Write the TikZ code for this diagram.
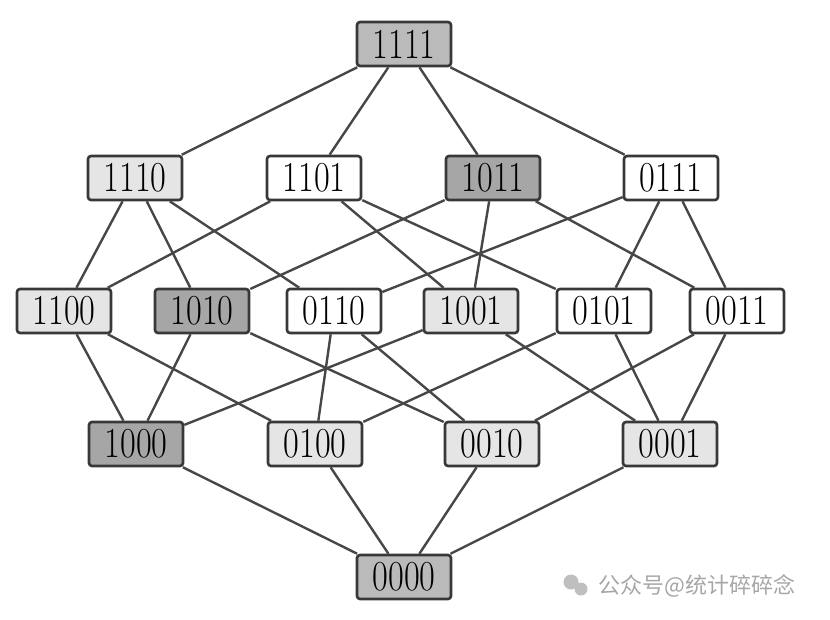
\documentclass[tikz,border=0pt]{standalone}
\usepackage{fontspec}
\newfontfamily\cjk{Noto Sans CJK SC}
\usepackage{graphicx}
\begin{document}
\begin{tikzpicture}[x=1pt,y=-1pt,
  bx/.style={draw=black!78, line width=2.6pt, rounded corners=3pt, minimum width=94pt, minimum height=44pt, inner sep=0pt,
    font=\fontsize{35}{35}\selectfont},
  wfill/.style={bx, fill=white},
  lfill/.style={bx, fill=black!10},
  mfill/.style={bx, fill=black!27},
  dfill/.style={bx, fill=black!35},
  edge/.style={draw=black!72, line width=2.4pt}]
\useasboundingbox (0,0) rectangle (830,619);
\newcommand{\lbl}[1]{\scalebox{0.98}[1.22]{#1}}
\node[mfill] (n1111) at (404,44) {\lbl{1111}};
\node[lfill] (n1110) at (135,178) {\lbl{1110}};
\node[wfill] (n1101) at (314,178) {\lbl{1101}};
\node[dfill] (n1011) at (493,178) {\lbl{1011}};
\node[wfill] (n0111) at (671,178) {\lbl{0111}};
\node[lfill] (n1100) at (64,311) {\lbl{1100}};
\node[dfill] (n1010) at (202,311) {\lbl{1010}};
\node[wfill] (n0110) at (334,311) {\lbl{0110}};
\node[lfill] (n1001) at (471,311) {\lbl{1001}};
\node[wfill] (n0101) at (604,311) {\lbl{0101}};
\node[wfill] (n0011) at (737,311) {\lbl{0011}};
\node[dfill] (n1000) at (136,444) {\lbl{1000}};
\node[lfill] (n0100) at (315,444) {\lbl{0100}};
\node[lfill] (n0010) at (492,444) {\lbl{0010}};
\node[lfill] (n0001) at (670,444) {\lbl{0001}};
\node[mfill] (n0000) at (404,577) {\lbl{0000}};
\foreach \a/\b in {1111/1110,1111/1101,1111/1011,1111/0111,
  1110/1100,1110/1010,1110/0110,
  1101/1100,1101/1001,1101/0101,
  1011/1010,1011/1001,1011/0011,
  0111/0110,0111/0101,0111/0011,
  1100/1000,1100/0100,
  1010/1000,1010/0010,
  0110/0100,0110/0010,
  1001/1000,1001/0001,
  0101/0100,0101/0001,
  0011/0010,0011/0001,
  1000/0000,0100/0000,0010/0000,0001/0000}
  \draw[edge] (n\a) -- (n\b);
\fill[black!25] (571,582) circle (7.5);
\fill[black!25] (581,589) circle (6.5);
\node[anchor=west, text=black!35, font=\cjk\fontsize{22}{22}\selectfont, inner sep=0pt] (wm) at (598,586) {公众号@统计碎碎念};
\end{tikzpicture}
\end{document}
